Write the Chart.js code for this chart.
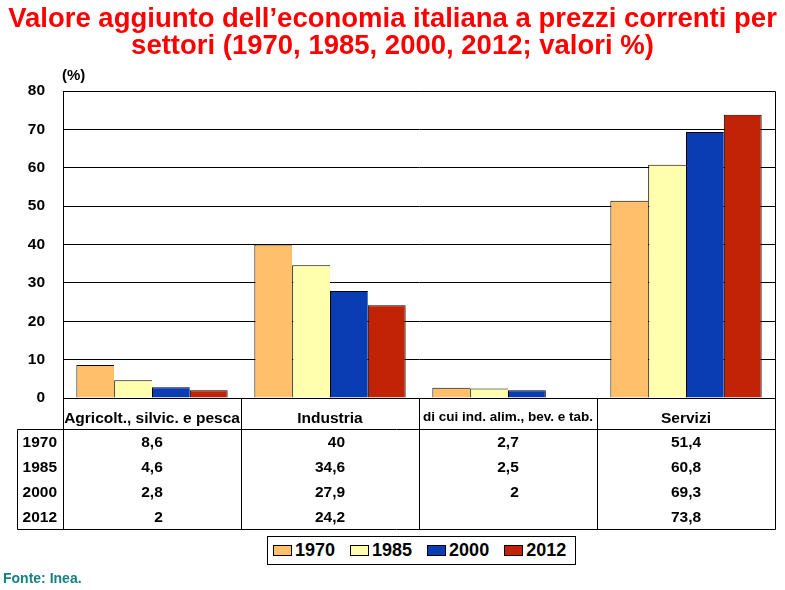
<!DOCTYPE html>
<html>
<head>
<meta charset="utf-8">
<script src="https://cdn.jsdelivr.net/npm/chart.js@4.4.0/dist/chart.umd.min.js"></script>
<style>
body { margin: 0; background: #fff; }
#wrap { position: relative; width: 785px; height: 590px; overflow: hidden;
  font-family: "Liberation Sans", Arial, sans-serif; font-weight: bold; color: #000; }
#wrap canvas { position: absolute; left: 0; top: 0; }
.title { position: absolute; left: 0; top: 4px; width: 785px; text-align: center;
  color: #f00; font-size: 27.5px; line-height: 27px; white-space: nowrap; }
.unit { position: absolute; left: 62px; top: 66px; font-size: 15px; line-height: 18px; }
.src { position: absolute; left: 3px; top: 570px; font-size: 14px; line-height: 16px; color: #178080; }
.cell { position: absolute; font-size: 15.5px; white-space: nowrap; box-sizing: border-box; }
.col { text-align: center; }
.col > div { display: inline-block; text-align: right; }
.legend { position: absolute; left: 267px; top: 536px; height: 27px; line-height: 27px;
  border: 1px solid #000; padding: 0 9px 0 5px; font-size: 18px; white-space: nowrap; background: #fff; }
.legend span.item { margin-right: 15px; }
.legend span.item:last-child { margin-right: 0; }
.legend i { display: inline-block; width: 17px; height: 9px; border: 1px solid #000; margin-right: 3px; vertical-align: baseline; }
</style>
</head>
<body>
<div id="wrap">
  <canvas id="chart" width="785" height="590"></canvas>
  <div class="title">Valore aggiunto dell’economia italiana a prezzi correnti per<br>settori (1970, 1985, 2000, 2012; valori %)</div>
  <div class="unit">(%)</div>
  <div class="src">Fonte: Inea.</div>
  <div id="legend" class="legend"></div>
</div>
<script>
// categorie e serie
const categories = ['Agricolt., silvic. e pesca', 'Industria', 'di cui ind. alim., bev. e tab.', 'Servizi'];
const years = ['1970', '1985', '2000', '2012'];
const v1970 = [8.6, 40, 2.7, 51.4];
const v1985 = [4.6, 34.6, 2.5, 60.8];
const v2000 = [2.8, 27.9, 2, 69.3];
const v2012 = [2, 24.2, null, 73.8];
const colors = ['#FFBF6B', '#FFFFAD', '#0A3CB4', '#C22307'];
const yMin = 0, yMax = 80, yStep = 10;

const series = [v1970, v1985, v2000, v2012];

const headRow = 31, rowH = 25;

// bordo destro solo se la barra successiva manca
function barBorder(ctx) {
  const di = ctx.datasetIndex, i = ctx.dataIndex;
  const next = series[di + 1];
  const last = !next || next[i] == null;
  return { top: 1, left: 1, bottom: 0, right: last ? 1 : 0 };
}

const tableLines = {
  id: 'tableLines',
  afterDraw(chart) {
    const ctx = chart.ctx, a = chart.chartArea;
    const catW = (a.right - a.left) / categories.length;
    const mid = a.bottom + headRow, bot = mid + rowH * years.length;
    const px = v => Math.round(v) + 0.5;
    ctx.save();
    ctx.strokeStyle = '#000';
    ctx.lineWidth = 1;
    ctx.beginPath();
    ctx.moveTo(px(a.left), px(a.top));
    ctx.lineTo(px(a.right), px(a.top));
    for (let i = 0; i <= categories.length; i++) {
      const bx = px(a.left + i * catW);
      ctx.moveTo(bx, i == 0 || i == categories.length ? px(a.top) : px(a.bottom));
      ctx.lineTo(bx, px(bot));
    }
    ctx.moveTo(px(17), px(mid));
    ctx.lineTo(px(a.right), px(mid));
    ctx.moveTo(px(17), px(bot));
    ctx.lineTo(px(a.right), px(bot));
    ctx.moveTo(px(17), px(mid));
    ctx.lineTo(px(17), px(bot));
    ctx.stroke();
    ctx.restore();
  }
};

const data = {
  labels: categories,
  datasets: years.map((y, k) => ({
    label: y,
    data: series[k],
    backgroundColor: colors[k],
    borderColor: '#000',
    borderWidth: barBorder,
    borderSkipped: false,
    categoryPercentage: 0.85,
    barPercentage: 1.0
  }))
};

const config = {
  type: 'bar',
  data: data,
  options: {
    responsive: false,
    animation: false,
    events: [],
    layout: { padding: { top: 91, right: 10, bottom: 192, left: 0 } },
    plugins: { legend: { display: false }, tooltip: { enabled: false } },
    scales: {
      x: { display: false },
      y: {
        min: yMin, max: yMax,
        afterFit: s => { s.width = 63; },
        ticks: { stepSize: yStep, padding: 18, color: '#000',
          font: { family: '"Liberation Sans", Arial', size: 15.5, weight: 'bold' } },
        grid: { color: '#000', lineWidth: 1, drawTicks: false },
        border: { color: '#000', width: 1 }
      }
    }
  },
  plugins: [tableLines]
};

const myChart = new Chart(document.getElementById('chart'), config);

// tabella dati sotto il grafico
function fmt(v) { return v == null ? '&nbsp;' : String(v).replace('.', ','); }

function buildTable(chart) {
  const wrap = document.getElementById('wrap');
  const a = chart.chartArea;
  const catW = (a.right - a.left) / categories.length;
  const mid = a.bottom + headRow;
  categories.forEach((c, i) => {
    const h = document.createElement('div');
    h.className = 'cell';
    h.textContent = c;
    h.style.left = (a.left + i * catW) + 'px';
    h.style.width = catW + 'px';
    h.style.top = a.bottom + 'px';
    h.style.height = headRow + 'px';
    h.style.lineHeight = headRow + 'px';
    h.style.textAlign = 'center';
    if (c.startsWith('di cui')) { h.style.fontSize = '13.5px'; h.style.paddingTop = '3px'; }
    else h.style.paddingTop = '4px';
    wrap.appendChild(h);

    const col = document.createElement('div');
    col.className = 'cell col';
    col.style.left = (a.left + i * catW) + 'px';
    col.style.width = catW + 'px';
    col.style.top = mid + 'px';
    col.style.lineHeight = rowH + 'px';
    col.innerHTML = '<div>' + series.map(s => fmt(s[i])).join('<br>') + '</div>';
    wrap.appendChild(col);
  });
  const lab = document.createElement('div');
  lab.className = 'cell';
  lab.style.left = '17px';
  lab.style.width = (a.left - 17) + 'px';
  lab.style.top = mid + 'px';
  lab.style.lineHeight = rowH + 'px';
  lab.style.textAlign = 'right';
  lab.style.paddingRight = '6px';
  lab.innerHTML = years.join('<br>');
  wrap.appendChild(lab);

  document.getElementById('legend').innerHTML = chart.data.datasets.map(d =>
    '<span class="item"><i style="background:' + d.backgroundColor + '"></i>' + d.label + '</span>').join('');
}
buildTable(myChart);
</script>
</body>
</html>
